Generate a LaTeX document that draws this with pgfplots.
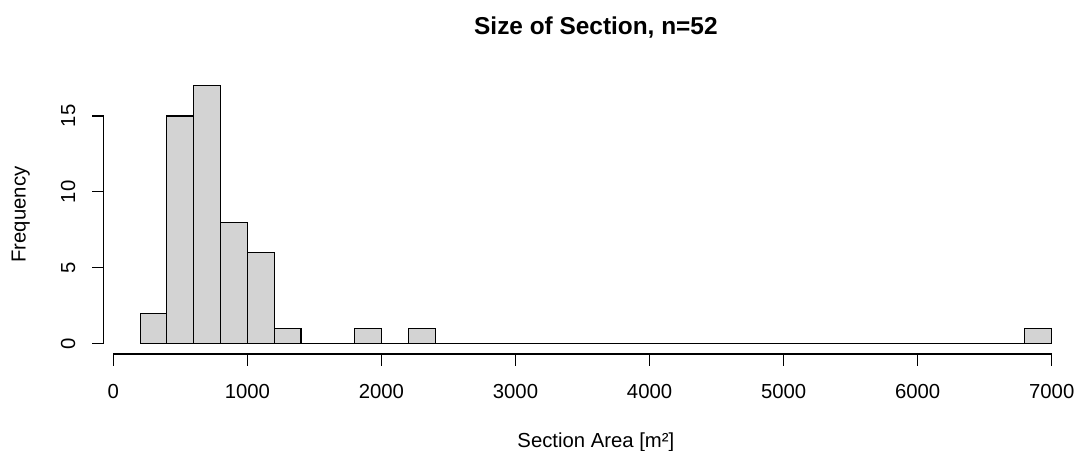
\documentclass[border=0pt]{standalone}
\usepackage{pgfplots}
\pgfplotsset{compat=1.18}
\usepackage{fontspec}
\setmainfont{Liberation Sans}
\definecolor{histfill}{HTML}{D3D3D3}
\begin{document}
\begin{tikzpicture}[font=\fontsize{20.3}{24}\selectfont]
\begin{axis}[at={(103.65pt,96pt)}, anchor=south west, scale only axis,
  width=984.55pt, height=278.7pt,
  xmin=-72, xmax=7272, ymin=-0.68, ymax=17.68,
  hide axis, clip=false]
\addplot[ybar interval, fill=histfill, draw=black, line width=1.1pt] table {
x y
200 2
400 15
600 17
800 8
1000 6
1200 1
1400 0
1600 0
1800 1
2000 0
2200 1
2400 0
2600 0
2800 0
3000 0
3200 0
3400 0
3600 0
3800 0
4000 0
4200 0
4400 0
4600 0
4800 0
5000 0
5200 0
5400 0
5600 0
5800 0
6000 0
6200 0
6400 0
6600 0
6800 1
7000 1
};
% x axis
\draw[line width=1.1pt] (axis cs:0,-0.68) -- (axis cs:7000,-0.68);
\draw[line width=1.1pt] (axis cs:0,-0.68) -- ([yshift=-12pt]axis cs:0,-0.68);
\draw[line width=1.1pt] (axis cs:1000,-0.68) -- ([yshift=-12pt]axis cs:1000,-0.68);
\draw[line width=1.1pt] (axis cs:2000,-0.68) -- ([yshift=-12pt]axis cs:2000,-0.68);
\draw[line width=1.1pt] (axis cs:3000,-0.68) -- ([yshift=-12pt]axis cs:3000,-0.68);
\draw[line width=1.1pt] (axis cs:4000,-0.68) -- ([yshift=-12pt]axis cs:4000,-0.68);
\draw[line width=1.1pt] (axis cs:5000,-0.68) -- ([yshift=-12pt]axis cs:5000,-0.68);
\draw[line width=1.1pt] (axis cs:6000,-0.68) -- ([yshift=-12pt]axis cs:6000,-0.68);
\draw[line width=1.1pt] (axis cs:7000,-0.68) -- ([yshift=-12pt]axis cs:7000,-0.68);
\node[anchor=base,inner sep=0pt] at ([yshift=-44.5pt]axis cs:0,-0.68) {0};
\node[anchor=base,inner sep=0pt] at ([yshift=-44.5pt]axis cs:1000,-0.68) {1000};
\node[anchor=base,inner sep=0pt] at ([yshift=-44.5pt]axis cs:2000,-0.68) {2000};
\node[anchor=base,inner sep=0pt] at ([yshift=-44.5pt]axis cs:3000,-0.68) {3000};
\node[anchor=base,inner sep=0pt] at ([yshift=-44.5pt]axis cs:4000,-0.68) {4000};
\node[anchor=base,inner sep=0pt] at ([yshift=-44.5pt]axis cs:5000,-0.68) {5000};
\node[anchor=base,inner sep=0pt] at ([yshift=-44.5pt]axis cs:6000,-0.68) {6000};
\node[anchor=base,inner sep=0pt] at ([yshift=-44.5pt]axis cs:7000,-0.68) {7000};
% y axis
\draw[line width=1.1pt] (axis cs:-72,0) -- (axis cs:-72,15);
\draw[line width=1.1pt] (axis cs:-72,0) -- ([xshift=-11.6pt]axis cs:-72,0);
\draw[line width=1.1pt] (axis cs:-72,5) -- ([xshift=-11.6pt]axis cs:-72,5);
\draw[line width=1.1pt] (axis cs:-72,10) -- ([xshift=-11.6pt]axis cs:-72,10);
\draw[line width=1.1pt] (axis cs:-72,15) -- ([xshift=-11.6pt]axis cs:-72,15);
\node[rotate=90,anchor=base,inner sep=0pt] at ([xshift=-28.6pt]axis cs:-72,0) {0};
\node[rotate=90,anchor=base,inner sep=0pt] at ([xshift=-28.6pt]axis cs:-72,5) {5};
\node[rotate=90,anchor=base,inner sep=0pt] at ([xshift=-28.6pt]axis cs:-72,10) {10};
\node[rotate=90,anchor=base,inner sep=0pt] at ([xshift=-28.6pt]axis cs:-72,15) {15};
\end{axis}
\pgfresetboundingbox
\useasboundingbox (0,0) rectangle (1074pt,450pt);
\node[anchor=base,inner sep=0pt,font=\bfseries\fontsize{24.4}{29}\selectfont] at (595.9pt,415pt) {Size of Section, n=52};
\node[anchor=base,inner sep=0pt] at (595.9pt,2.7pt) {Section Area [m²]};
\node[anchor=base,inner sep=0pt,rotate=90] at (25.7pt,235.4pt) {Frequency};
\end{tikzpicture}
\end{document}
